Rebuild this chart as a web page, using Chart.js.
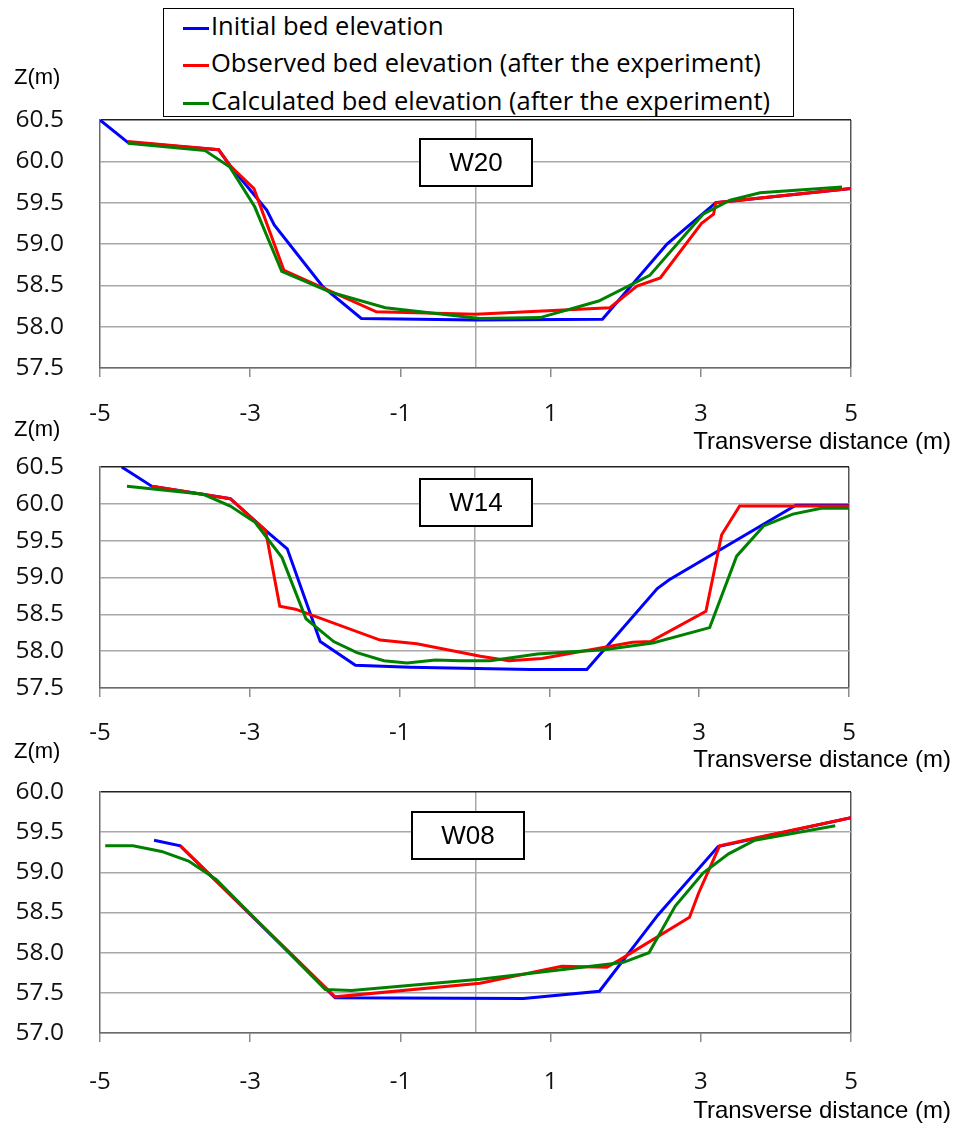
<!DOCTYPE html>
<html>
<head>
<meta charset="utf-8">
<script src="https://cdn.jsdelivr.net/npm/chart.js@4.4.1/dist/chart.umd.min.js"></script>
<style>
  html, body { margin: 0; padding: 0; background: #fff; }
  body { width: 959px; height: 1126px; position: relative; overflow: hidden; }
  canvas { position: absolute; left: 0; }
  #legend {
    position: absolute; left: 163px; top: 8px; width: 629px; height: 107px;
    border: 1px solid #000; background: #fff; z-index: 5;
    font-family: "Open Sans", sans-serif; font-size: 25.5px; color: #000;
  }
  #legend .row { position: absolute; left: 19px; height: 32px; line-height: 32px; white-space: nowrap; }
  #legend .swatch { display: inline-block; width: 26px; height: 3px; vertical-align: middle; margin-right: 2px; }
</style>
</head>
<body>

<div id="legend">
  <div class="row" style="top:0px"><span class="swatch" style="background:#0000ff"></span>Initial bed elevation</div>
  <div class="row" style="top:37px"><span class="swatch" style="background:#ff0000"></span>Observed bed elevation (after the experiment)</div>
  <div class="row" style="top:75px"><span class="swatch" style="background:#008000"></span>Calculated bed elevation (after the experiment)</div>
</div>

<canvas id="cW20" width="959" height="451" style="top:10px"></canvas>
<canvas id="cW14" width="959" height="424" style="top:357px"></canvas>
<canvas id="cW08" width="959" height="444" style="top:682px"></canvas>

<script>
// ---- Cross-section W20 ----
const w20InitialX  = [-5.0, -4.63, -3.42, -3.27, -2.78, -2.68, -2.03, -1.52, 0.0, 1.69, 2.55, 3.2, 5.0];
const w20InitialZ  = [60.5, 60.23, 60.14, 59.95, 59.41, 59.23, 58.48, 58.10, 58.08, 58.09, 59.0, 59.5, 59.67];
const w20ObservedX = [-4.63, -3.42, -3.27, -2.95, -2.55, -1.32, 0.0, 1.79, 2.15, 2.46, 3.01, 3.17, 3.2, 5.0];
const w20ObservedZ = [60.24, 60.14, 59.95, 59.67, 58.68, 58.18, 58.15, 58.23, 58.49, 58.59, 59.25, 59.36, 59.5, 59.67];
const w20CalcX     = [-4.63, -3.6, -3.27, -2.94, -2.58, -1.94, -1.2, 0.06, 0.86, 1.64, 2.32, 3.03, 3.39, 3.79, 4.88];
const w20CalcZ     = [60.22, 60.13, 59.93, 59.45, 58.67, 58.42, 58.23, 58.10, 58.11, 58.31, 58.62, 59.36, 59.53, 59.62, 59.69];

// ---- Cross-section W14 ----
const w14InitialX  = [-4.71, -4.31, -3.26, -2.79, -2.5, -2.06, -1.59, -0.86, 0.75, 1.5, 2.44, 2.6, 4.29, 5.0];
const w14InitialZ  = [60.5, 60.24, 60.07, 59.64, 59.39, 58.13, 57.81, 57.78, 57.75, 57.75, 58.85, 58.97, 59.98, 59.98];
const w14ObservedX = [-4.31, -3.26, -2.79, -2.6, -2.39, -1.26, -0.77, 0.08, 0.46, 0.9, 2.11, 2.35, 3.09, 3.3, 3.54, 5.0];
const w14ObservedZ = [60.24, 60.07, 59.64, 58.61, 58.57, 58.15, 58.10, 57.93, 57.87, 57.90, 58.12, 58.13, 58.54, 59.58, 59.97, 59.97];
const w14CalcX     = [-4.64, -3.62, -3.26, -2.93, -2.57, -2.25, -1.88, -1.57, -1.21, -0.9, -0.52, -0.19, 0.21, 0.84, 1.73, 2.38, 3.14, 3.5, 3.86, 4.25, 4.63, 5.0];
const w14CalcZ     = [60.24, 60.13, 59.97, 59.75, 59.27, 58.44, 58.13, 57.98, 57.87, 57.84, 57.88, 57.87, 57.87, 57.96, 58.02, 58.11, 58.32, 59.29, 59.70, 59.86, 59.94, 59.94];

// ---- Cross-section W08 ----
const w08InitialX  = [-4.28, -3.93, -1.87, 0.64, 1.65, 2.43, 3.23, 5.0];
const w08InitialZ  = [59.40, 59.33, 57.44, 57.43, 57.52, 58.47, 59.32, 59.68];
const w08ObservedX = [-3.93, -1.87, 0.06, 1.15, 1.75, 1.92, 2.85, 2.97, 3.25, 3.74, 5.0];
const w08ObservedZ = [59.33, 57.45, 57.62, 57.83, 57.82, 57.91, 58.44, 58.74, 59.33, 59.43, 59.68];
const w08CalcX     = [-4.93, -4.56, -4.18, -3.82, -3.45, -2.0, -1.65, 0.06, 1.79, 1.97, 2.31, 2.66, 3.03, 3.37, 3.72, 4.79];
const w08CalcZ     = [59.33, 59.33, 59.26, 59.14, 58.91, 57.54, 57.53, 57.67, 57.86, 57.88, 58.00, 58.58, 58.99, 59.23, 59.40, 59.58];

// Axis settings
const xMin = -5, xMax = 5, xStep = 2;
const seriesNames = ['Initial bed elevation', 'Observed bed elevation (after the experiment)', 'Calculated bed elevation (after the experiment)'];
const seriesColors = ['#0000ff', '#ff0000', '#008000'];

function pairs(xs, zs) { return xs.map((x, i) => ({ x: x, y: zs[i] })); }

// Section name box and axis captions
const panelDecor = {
  id: 'panelDecor',
  afterDraw(chart, args, opts) {
    const ctx = chart.ctx, a = chart.chartArea, xs = chart.scales.x;
    ctx.save();
    const bw = 112, bh = 47;
    const cx = xs.getPixelForValue(0) + opts.boxShift;
    const bx = Math.round(cx - bw / 2), by = Math.round(a.top + opts.boxTop);
    ctx.fillStyle = '#fff';
    ctx.fillRect(bx, by, bw, bh);
    ctx.lineWidth = 2;
    ctx.strokeStyle = '#000';
    ctx.strokeRect(bx, by, bw, bh);
    ctx.fillStyle = '#000';
    ctx.font = '26px "Liberation Sans", Arial, sans-serif';
    ctx.textAlign = 'center';
    ctx.textBaseline = 'middle';
    ctx.fillText(opts.name, bx + bw / 2, by + bh / 2 + 1);

    ctx.font = '22px "Liberation Sans", Arial, sans-serif';
    ctx.textAlign = 'left';
    ctx.fillText('Z(m)', 14, a.top - opts.zGap);
    ctx.font = '24px "Liberation Sans", Arial, sans-serif';
    ctx.textAlign = 'right';
    ctx.fillText('Transverse distance (m)', chart.width - 8, a.bottom + opts.xGap);
    ctx.restore();
  }
};

function makePanel(id, name, initX, initZ, obsX, obsZ, calcX, calcZ, yMin, yMax, look) {
  const series = [pairs(initX, initZ), pairs(obsX, obsZ), pairs(calcX, calcZ)];
  const datasets = series.map((d, i) => ({
    label: seriesNames[i],
    data: d,
    showLine: true,
    borderColor: seriesColors[i],
    backgroundColor: seriesColors[i],
    borderWidth: 3,
    pointRadius: 0,
    tension: 0,
    order: 3 - i
  }));
  new Chart(document.getElementById(id), {
    type: 'scatter',
    data: { datasets: datasets },
    plugins: [panelDecor],
    options: {
      responsive: false,
      animation: false,
      events: [],
      layout: { padding: { top: 110, right: look.rightPad, left: 0, bottom: 0 } },
      plugins: {
        legend: { display: false },
        tooltip: { enabled: false },
        panelDecor: { name: name, boxShift: look.boxShift, boxTop: look.boxTop, zGap: look.zGap, xGap: look.xGap }
      },
      scales: {
        x: {
          type: 'linear', min: xMin, max: xMax,
          afterBuildTicks: s => {
            s.ticks.push({ value: 0 });
            s.ticks.sort((p, q) => p.value - q.value);
          },
          afterFit: s => { s.height = 93; },
          border: { display: true, color: '#6b6b6b', width: 1.5 },
          grid: {
            drawOnChartArea: true, drawTicks: true, tickLength: 9, lineWidth: 1.5,
            color: c => (c.tick && c.tick.value === 0) ? '#a8a8a8' : ((c.tick && c.tick.value === xMax) ? '#555555' : 'rgba(0,0,0,0)'),
            tickColor: c => (c.tick && c.tick.value === 0) ? 'rgba(0,0,0,0)' : '#8c8c8c'
          },
          ticks: {
            stepSize: xStep, autoSkip: false, maxRotation: 0,
            padding: look.xPad, color: '#111',
            font: { family: '"Open Sans", sans-serif', size: 24 },
            callback: v => (v === 0 ? '' : String(v))
          }
        },
        y: {
          min: yMin, max: yMax,
          afterFit: s => { s.width = 100; },
          border: { display: true, color: '#6b6b6b', width: 1.5 },
          grid: {
            drawTicks: false, lineWidth: 1.5,
            color: c => (c.tick && c.tick.value >= yMax - 1e-9) ? '#222222' : '#a8a8a8'
          },
          ticks: {
            stepSize: 0.5, padding: 36, color: '#111',
            font: { family: '"Open Sans", sans-serif', size: 24.5 },
            callback: v => Number(v).toFixed(1)
          }
        }
      }
    }
  });
}

makePanel('cW20', 'W20', w20InitialX, w20InitialZ, w20ObservedX, w20ObservedZ, w20CalcX, w20CalcZ, 57.5, 60.5,
  { rightPad: 108, boxShift: 0, boxTop: 19, zGap: 42, xGap: 74, xPad: 23 });
makePanel('cW14', 'W14', w14InitialX, w14InitialZ, w14ObservedX, w14ObservedZ, w14CalcX, w14CalcZ, 57.5, 60.5,
  { rightPad: 110, boxShift: 1, boxTop: 12, zGap: 37, xGap: 72, xPad: 22 });
makePanel('cW08', 'W08', w08InitialX, w08InitialZ, w08ObservedX, w08ObservedZ, w08CalcX, w08CalcZ, 57.0, 60.0,
  { rightPad: 108, boxShift: -8, boxTop: 20, zGap: 40, xGap: 78, xPad: 26 });
</script>
</body>
</html>
